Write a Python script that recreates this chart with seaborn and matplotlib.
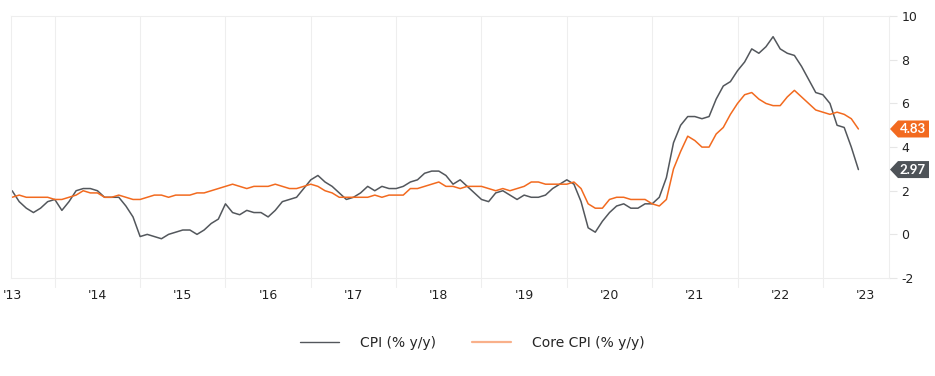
import matplotlib
matplotlib.use("Agg")
import matplotlib.pyplot as plt
from matplotlib.lines import Line2D
from matplotlib.patches import Polygon
from matplotlib.transforms import IdentityTransform
import seaborn as sns
import pandas as pd
import numpy as np

# Data: monthly y/y, Jul 2013 .. Jun 2023
cpi = [2.0, 1.5, 1.2, 1.0, 1.2, 1.5,
       1.6, 1.1, 1.5, 2.0, 2.1, 2.1, 2.0, 1.7, 1.7, 1.7, 1.3, 0.8,
       -0.1, 0.0, -0.1, -0.2, 0.0, 0.1, 0.2, 0.2, 0.0, 0.2, 0.5, 0.7,
       1.4, 1.0, 0.9, 1.1, 1.0, 1.0, 0.8, 1.1, 1.5, 1.6, 1.7, 2.1,
       2.5, 2.7, 2.4, 2.2, 1.9, 1.6, 1.7, 1.9, 2.2, 2.0, 2.2, 2.1,
       2.1, 2.2, 2.4, 2.5, 2.8, 2.9, 2.9, 2.7, 2.3, 2.5, 2.2, 1.9,
       1.6, 1.5, 1.9, 2.0, 1.8, 1.6, 1.8, 1.7, 1.7, 1.8, 2.1, 2.3,
       2.5, 2.3, 1.5, 0.3, 0.1, 0.6, 1.0, 1.3, 1.4, 1.2, 1.2, 1.4,
       1.4, 1.7, 2.6, 4.2, 5.0, 5.4, 5.4, 5.3, 5.4, 6.2, 6.8, 7.0,
       7.5, 7.9, 8.5, 8.3, 8.6, 9.06, 8.5, 8.3, 8.2, 7.7, 7.1, 6.5,
       6.4, 6.0, 5.0, 4.9, 4.0, 2.97]
core = [1.7, 1.8, 1.7, 1.7, 1.7, 1.7,
        1.6, 1.6, 1.7, 1.8, 2.0, 1.9, 1.9, 1.7, 1.7, 1.8, 1.7, 1.6,
        1.6, 1.7, 1.8, 1.8, 1.7, 1.8, 1.8, 1.8, 1.9, 1.9, 2.0, 2.1,
        2.2, 2.3, 2.2, 2.1, 2.2, 2.2, 2.2, 2.3, 2.2, 2.1, 2.1, 2.2,
        2.3, 2.2, 2.0, 1.9, 1.7, 1.7, 1.7, 1.7, 1.7, 1.8, 1.7, 1.8,
        1.8, 1.8, 2.1, 2.1, 2.2, 2.3, 2.4, 2.2, 2.2, 2.1, 2.2, 2.2,
        2.2, 2.1, 2.0, 2.1, 2.0, 2.1, 2.2, 2.4, 2.4, 2.3, 2.3, 2.3,
        2.3, 2.4, 2.1, 1.4, 1.2, 1.2, 1.6, 1.7, 1.7, 1.6, 1.6, 1.6,
        1.4, 1.3, 1.6, 3.0, 3.8, 4.5, 4.3, 4.0, 4.0, 4.6, 4.9, 5.5,
        6.0, 6.4, 6.5, 6.2, 6.0, 5.9, 5.9, 6.3, 6.6, 6.3, 6.0, 5.7,
        5.6, 5.5, 5.6, 5.5, 5.3, 4.83]
year_labels = ["'13", "'14", "'15", "'16", "'17", "'18", "'19", "'20", "'21", "'22", "'23"]
y_ticks = [-2, 0, 2, 4, 6, 8, 10]

CPI_COLOR = "#53575c"
CORE_COLOR = "#f26a1f"

df = pd.DataFrame({"m": np.arange(len(cpi)), "CPI": cpi, "Core": core})

sns.set_theme(style="white")
plt.rcParams["font.family"] = ["DejaVu Sans"]

fig = plt.figure(figsize=(9.35, 3.76), dpi=100)
ax = fig.add_axes([0.0118, 0.2606, 0.9390, 0.6964])

sns.lineplot(data=df, x="m", y="CPI", color=CPI_COLOR, lw=1.1, ax=ax, legend=False)
sns.lineplot(data=df, x="m", y="Core", color=CORE_COLOR, lw=1.1, ax=ax, legend=False)

ax.set_xlim(-0.15, 123.3)
ax.set_ylim(-2, 10)

# year labels centered mid-year (Jul), grid lines at January
ax.set_xticks(np.arange(0, 121, 12))
ax.set_xticklabels(year_labels, fontsize=9, color="#222222")
for g in np.arange(6, 121, 12):
    ax.axvline(g, color="#eeeeee", lw=0.8, zorder=0, ymin=-0.035, clip_on=False)
ax.tick_params(axis="x", length=0, pad=8)

ax.yaxis.tick_right()
ax.set_yticks(y_ticks)
ax.set_yticklabels([str(t) for t in y_ticks], fontsize=9, color="#222222")
ax.tick_params(axis="y", length=6, width=0.8, color="#e6e6e6", pad=3)

for s in ["left", "bottom", "top", "right"]:
    ax.spines[s].set_color("#eeeeee")
    ax.spines[s].set_linewidth(0.8)
ax.set_xlabel("")
ax.set_ylabel("")

# last-value tags (arrow boxes right of the plot)
x0 = ax.transAxes.transform((1.0, 0))[0]
for val, col in [(core[-1], CORE_COLOR), (cpi[-1], "#4e5358")]:
    y0 = ax.transData.transform((0, val))[1]
    h2 = 8.5
    pts = [(x0 + 1, y0), (x0 + 9, y0 + h2), (x0 + 40, y0 + h2),
           (x0 + 40, y0 - h2), (x0 + 9, y0 - h2)]
    fig.add_artist(Polygon(pts, closed=True, fc=col, ec="none", transform=IdentityTransform()))
    fig.text((x0 + 24) / fig.bbox.width, y0 / fig.bbox.height, f"{val:.2f}",
             ha="center", va="center", fontsize=9.5, fontweight="bold", color="white",
             family=["Lato", "DejaVu Sans"])

handles = [Line2D([], [], color=CPI_COLOR, lw=1.0),
           Line2D([], [], color="#f9b08a", lw=1.6)]
fig.legend(handles, ["CPI (% y/y)", "Core CPI (% y/y)"], loc="center",
           bbox_to_anchor=(0.505, 0.088), ncol=2, frameon=False,
           fontsize=10, handlelength=2.8, columnspacing=2.6, handletextpad=1.5)

fig.savefig("out.png", dpi=100)
